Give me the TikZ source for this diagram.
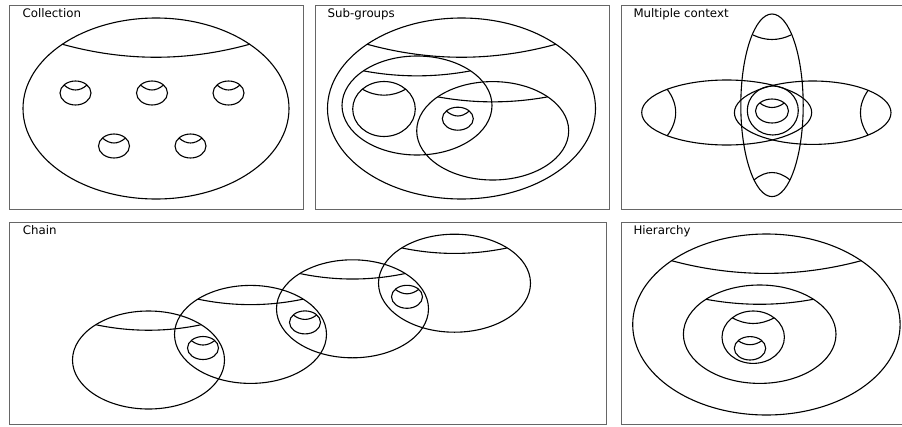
\documentclass[tikz,border=0pt]{standalone}
\usepackage{fontspec}
\setmainfont{DejaVu Sans}
\usepackage{tikz}
\tikzstyle{panel} = 
[
	draw=black!60, 
	line width=1pt
]
\tikzstyle{outline} = 
[
	draw=black, 
	line width=1.1pt
]
\tikzstyle{title} = 
[
	inner sep=0pt, 
	anchor=base west, 
	font=\fontsize{11.8}{14}\selectfont
]
% ellipse with a rim: centre x, centre y, x radius, y radius, rim height, dip
\newcommand{\bowl}[6]{%
	\draw [outline] ({#1},{#2}) ellipse [x radius={#3}, y radius={#4}];
	\draw [outline] ({#1-#3*sqrt(1-#5*#5)},{#2-#4*#5}) 
		.. controls ({#1-#3*sqrt(1-#5*#5)/3},{#2-#4*#5+#6*4/3}) 
		and ({#1+#3*sqrt(1-#5*#5)/3},{#2-#4*#5+#6*4/3}) 
		.. ({#1+#3*sqrt(1-#5*#5)},{#2-#4*#5});
}

\begin{document}
\begin{tikzpicture}[x=1pt, y=-1pt]
	\useasboundingbox (0,0) rectangle (902,426);
	
	\draw [panel] (9,5) rectangle (303,209);
	\draw [panel] (315,5) rectangle (609,209);
	\draw [panel] (621,5) rectangle (904,209);
	\draw [panel] (9,222) rectangle (606,424.5);
	\draw [panel] (621,222) rectangle (904,424.5);
	
	\node 
	(Collection) 
	[title] 
	at (22.5,17.7) 
	{Collection};
	
	\node 
	(SubGroups) 
	[title] 
	at (327.5,17.7) 
	{Sub-groups};
	
	\node 
	(MultipleContext) 
	[title] 
	at (633.3,17.7) 
	{Multiple context};
	
	\node 
	(Chain) 
	[title] 
	at (22.7,234.5) 
	{Chain};
	
	\node 
	(Hierarchy) 
	[title] 
	at (633.3,234.5) 
	{Hierarchy};
	
	% collection
	\bowl{156}{108.5}{133}{90.5}{0.71}{13}
	\foreach \cx in {75.5,152,228.5}
		{\bowl{\cx}{93}{15.5}{12}{0.667}{5}}
	\foreach \cx in {114,190.5}
		{\bowl{\cx}{146}{15.5}{12}{0.667}{5}}
	
	% sub-groups
	\bowl{461.5}{108.5}{134}{90.5}{0.71}{13}
	\bowl{417}{105.5}{75}{49.5}{0.70}{5}
	\bowl{384}{109}{31.3}{27.5}{0.72}{6}
	\bowl{492.7}{130.8}{76}{49.2}{0.69}{5}
	\bowl{457.8}{118.7}{15.5}{11.5}{0.67}{5}
	
	% multiple context
	\draw [outline] (772,105.3) ellipse [x radius=31.2, y radius=91.3];
	\draw [outline] (753,35) .. controls (765.7,41) and (778.3,41) .. (791,35);
	\draw [outline] (754,180) .. controls (766,170) and (778,170) .. (790,180);
	\draw [outline] (726.7,112.5) ellipse [x radius=85, y radius=32.5];
	\draw [outline] (667,89) .. controls (678.6,104.5) and (678.6,120.5) .. (667,136);
	\draw [outline] (812.7,112.7) ellipse [x radius=78.3, y radius=31.7];
	\draw [outline] (868,90.5) .. controls (857.9,105) and (857.9,120.5) .. (868,135);
	\draw [outline] (772.8,110.5) ellipse [x radius=25.5, y radius=24.5];
	\bowl{772}{111}{16.5}{12}{0.667}{4.5}
	
	% chain
	\foreach \i in {0,...,3}
		{\bowl{148.5+102*\i}{360-25.6*\i}{76}{49}{0.72}{5.5}}
	\foreach \i in {0,1,2}
		{\bowl{203+102*\i}{348-25.6*\i}{15.5}{11.5}{0.65}{4.5}}
	
	% hierarchy
	\bowl{766.4}{324.5}{133.7}{90.5}{0.705}{12.7}
	\bowl{759.7}{334.2}{76.3}{49.2}{0.71}{5}
	\bowl{753.2}{337.2}{31.2}{26.2}{0.74}{5.7}
	\bowl{750}{348.3}{15.7}{11.7}{0.65}{4}
	
\end{tikzpicture}
\end{document}
